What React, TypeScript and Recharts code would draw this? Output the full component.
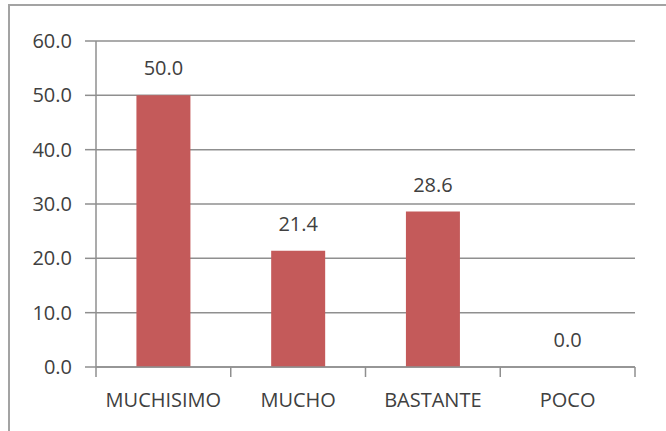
import React from 'react';
import { BarChart, Bar, XAxis, YAxis, CartesianGrid, LabelList } from 'recharts';

const categories = ['MUCHISIMO', 'MUCHO', 'BASTANTE', 'POCO'];
const values = [50.0, 21.4, 28.6, 0.0];
const yTicks = [0, 10, 20, 30, 40, 50, 60];

const data = categories.map((name, i) => ({ name, value: values[i] }));

const FONT = '"Open Sans", sans-serif';
const TEXT = '#404040';
const GRID = '#8f8f8f';

// category label plus tick marks on the band edges (Excel style)
function EdgeTick(props: any) {
    const { x, y, payload, index } = props;
    const half = payload.offset || 67.5;
    const axisY = y - 26;
    return (
        <g>
            <line x1={x - half} x2={x - half} y1={axisY} y2={axisY + 10} stroke={GRID} strokeWidth={1.5} />
            {index === categories.length - 1 && (
                <line x1={x + half} x2={x + half} y1={axisY} y2={axisY + 10} stroke={GRID} strokeWidth={1.5} />
            )}
            <text x={x} y={y} dy="0.71em" textAnchor="middle" fill={TEXT} fontSize={20} fontFamily={FONT}>
                {payload.value}
            </text>
        </g>
    );
}

export default function App() {
    return (
        <div style={{ position: 'absolute', left: 0, top: 0, width: 666, height: 431, background: '#fff', overflow: 'hidden' }}>
            <div style={{
                position: 'absolute', left: 8, top: 4, right: -2, bottom: -2,
                borderTop: '2px solid #a3a3a3', borderLeft: '2px solid #a3a3a3'
            }} />
            <div style={{ position: 'absolute', left: 0, top: 0 }}>
                <BarChart
                    width={666}
                    height={431}
                    data={data}
                    margin={{ top: 41, right: 31, left: 0, bottom: 0 }}
                    barCategoryGap="30%"
                >
                    <CartesianGrid vertical={false} stroke={GRID} strokeWidth={1.5} />
                    <XAxis
                        dataKey="name"
                        height={64}
                        axisLine={{ stroke: GRID, strokeWidth: 1.5 }}
                        tickLine={false}
                        tickSize={0}
                        tickMargin={26}
                        tick={<EdgeTick />}
                        interval={0}
                    />
                    <YAxis
                        width={96}
                        domain={[0, 60]}
                        ticks={yTicks}
                        tickFormatter={(v: number) => v.toFixed(1)}
                        axisLine={{ stroke: GRID, strokeWidth: 1.5 }}
                        tickLine={{ stroke: GRID, strokeWidth: 1.5 }}
                        tickSize={11}
                        tickMargin={13}
                        tick={{ fill: TEXT, fontSize: 20, fontFamily: FONT }}
                    />
                    <Bar dataKey="value" fill="#c45a5a" minPointSize={0.01} isAnimationActive={false}>
                        <LabelList
                            dataKey="value"
                            position="top"
                            offset={20}
                            formatter={(v: number) => Number(v).toFixed(1)}
                            style={{ fill: TEXT, fontSize: 20, fontFamily: FONT }}
                        />
                    </Bar>
                </BarChart>
            </div>
        </div>
    );
}
